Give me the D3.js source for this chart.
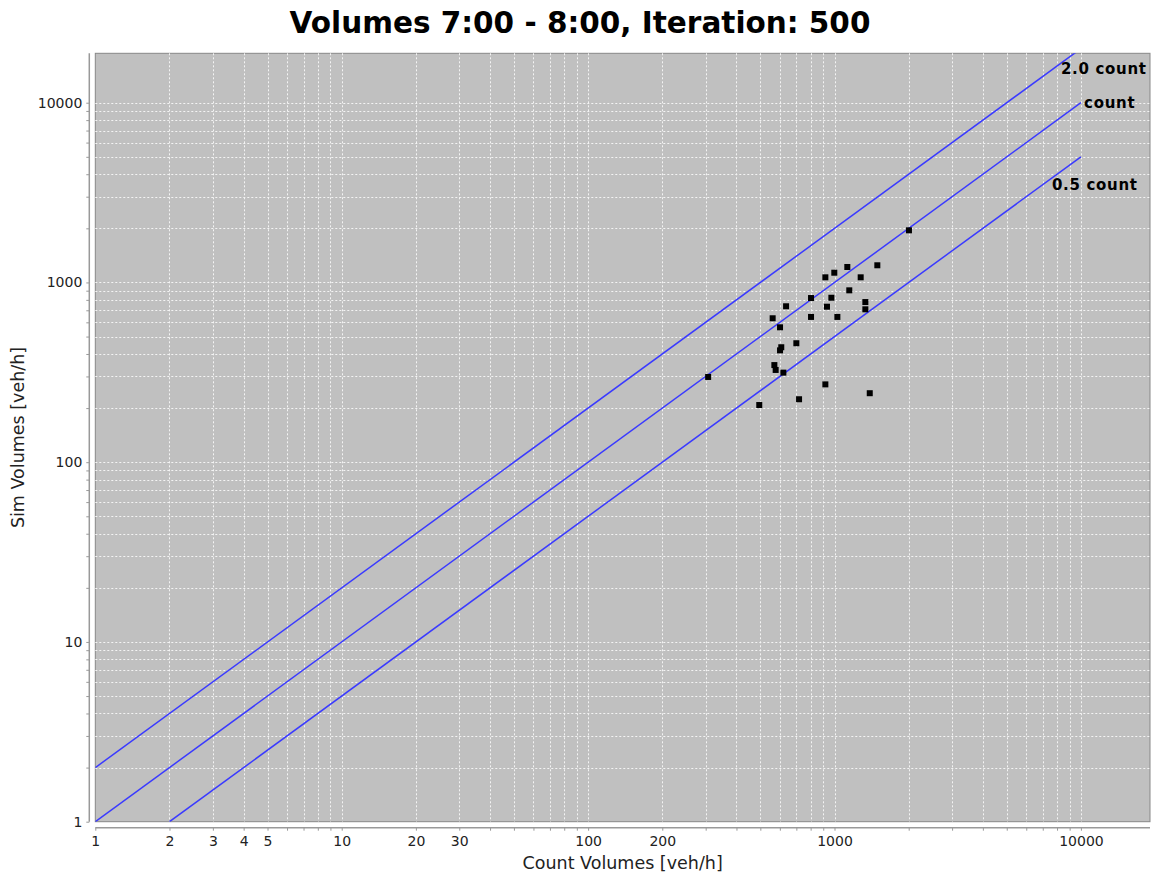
<!DOCTYPE html>
<meta charset="utf-8">
<style>
body { margin: 0; background: #fff; font-family: "DejaVu Sans", sans-serif; }
.tick text { font: 14px "DejaVu Sans", sans-serif; fill: #222; }
</style>
<body>
<svg width="1152" height="879"></svg>
<script src="https://d3js.org/d3.v7.min.js"></script>
<script>
// count volumes vs simulated volumes [veh/h]
var countVol = [2005, 1127, 1492, 998, 918, 1277, 1148, 803, 971, 636,
                932, 1334, 1334, 561, 803, 1027, 601, 700, 608, 601,
                570, 577, 620, 307, 918, 1390, 718, 495];
var simVol = [1950, 1219, 1246, 1133, 1068, 1068, 904, 819, 822, 737,
              733, 778, 709, 632, 643, 643, 563, 459, 436, 419,
              347, 326, 315, 298, 271, 242, 224, 208];

var refFactors = [2.0, 1.0, 0.5];
var refLabels = ["2.0 count", "count", "0.5 count"];
var xTickLabels = [1, 2, 3, 4, 5, 10, 20, 30, 100, 200, 1000, 10000];
var yTickLabels = [1, 10, 100, 1000, 10000];

var svg = d3.select("svg");
var pLeft = 95.3, pRight = 1150, pTop = 53.3, pBottom = 821.7;

var x = d3.scaleLog().domain([1, 19070]).range([pLeft, pRight]);
var y = d3.scaleLog().domain([1, 18830]).range([pBottom, pTop]);

// all 1..9 x 10^k ticks inside range
function minorTicks(dom) {
  var t = [];
  for (var k = 0; k < 6; k++)
    for (var m = 1; m < 10; m++) {
      var v = m * Math.pow(10, k);
      if (v >= dom[0] && v <= dom[1]) t.push(v);
    }
  return t;
}
var xt = minorTicks(x.domain()), yt = minorTicks(y.domain());

svg.append("text")
  .attr("x", 580).attr("y", 33)
  .attr("text-anchor", "middle")
  .style("font", "bold 29.5px 'DejaVu Sans', sans-serif")
  .text("Volumes 7:00 - 8:00, Iteration: 500");

svg.append("rect")
  .attr("x", pLeft).attr("y", pTop)
  .attr("width", pRight - pLeft).attr("height", pBottom - pTop)
  .attr("fill", "#c0c0c0").attr("stroke", "#888");

var grid = svg.append("g")
  .attr("stroke", "#f4f4f4").attr("stroke-dasharray", "2,2").attr("stroke-width", 1);
grid.selectAll(".gx").data(xt.filter(function(d) { return d > 1; })).enter().append("line")
  .attr("x1", function(d) { return Math.round(x(d)) + 0.5; })
  .attr("x2", function(d) { return Math.round(x(d)) + 0.5; })
  .attr("y1", pTop).attr("y2", pBottom);
grid.selectAll(".gy").data(yt.filter(function(d) { return d > 1; })).enter().append("line")
  .attr("y1", function(d) { return Math.round(y(d)) + 0.5; })
  .attr("y2", function(d) { return Math.round(y(d)) + 0.5; })
  .attr("x1", pLeft).attr("x2", pRight);

svg.append("clipPath").attr("id", "clip")
  .append("rect").attr("x", pLeft).attr("y", pTop)
  .attr("width", pRight - pLeft).attr("height", pBottom - pTop);

var lines = svg.append("g").attr("clip-path", "url(#clip)");
refFactors.forEach(function(f) {
  var x0 = Math.max(1, 1 / f);
  lines.append("line")
    .attr("x1", x(x0)).attr("y1", y(x0 * f))
    .attr("x2", x(10000)).attr("y2", y(10000 * f))
    .attr("stroke", "#3a3aff").attr("stroke-width", 1.5);
});

// annotations
var annPos = [[18500, 15400, "end"], [10300, 10000, "start"], [17000, 3480, "end"]];
svg.selectAll(".ann").data(refLabels).enter().append("text")
  .attr("x", function(d, i) { return x(annPos[i][0]); })
  .attr("y", function(d, i) { return y(annPos[i][1]); })
  .attr("dy", "0.35em")
  .attr("text-anchor", function(d, i) { return annPos[i][2]; })
  .style("font", "bold 15px 'DejaVu Sans', sans-serif")
  .style("letter-spacing", "0.7px")
  .attr("fill", "#000")
  .text(function(d) { return d; });

svg.append("g").selectAll("rect").data(countVol).enter().append("rect")
  .attr("x", function(d) { return x(d) - 3; })
  .attr("y", function(d, i) { return y(simVol[i]) - 3; })
  .attr("width", 6).attr("height", 6)
  .attr("fill", "#000");

var xAxis = d3.axisBottom(x).tickValues(xt).tickSize(3).tickPadding(5)
  .tickFormat(function(d) { return xTickLabels.indexOf(d) >= 0 ? d : ""; });
var gx = svg.append("g").attr("transform", "translate(0," + (pBottom + 6) + ")").call(xAxis);

var yAxis = d3.axisLeft(y).tickValues(yt).tickSize(3).tickPadding(4)
  .tickFormat(function(d) { return yTickLabels.indexOf(d) >= 0 ? d : ""; });
var gy = svg.append("g").attr("transform", "translate(" + (pLeft - 6) + ",0)").call(yAxis);

[gx, gy].forEach(function(g) {
  g.select(".domain").attr("stroke", "#999").attr("stroke-width", 1.5);
  g.selectAll(".tick line").attr("stroke", "#999");
});
gx.select(".domain").attr("d", "M" + pLeft + ",0H" + pRight);
gy.select(".domain").attr("d", "M0," + pTop + "V" + pBottom);

svg.append("text")
  .attr("x", (pLeft + pRight) / 2).attr("y", 869)
  .attr("text-anchor", "middle")
  .style("font", "17.5px 'DejaVu Sans', sans-serif").attr("fill", "#222")
  .text("Count Volumes [veh/h]");

svg.append("text")
  .attr("transform", "translate(24," + (pTop + pBottom) / 2 + ") rotate(-90)")
  .attr("text-anchor", "middle")
  .style("font", "17.5px 'DejaVu Sans', sans-serif").attr("fill", "#222")
  .text("Sim Volumes [veh/h]");
</script>
</body>
